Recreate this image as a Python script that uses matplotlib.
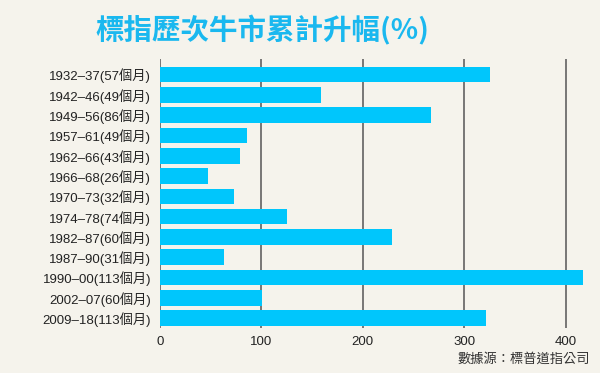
import matplotlib
matplotlib.use("Agg")
import matplotlib.pyplot as plt

categories = ["1932–37(57個月)", "1942–46(49個月)", "1949–56(86個月)", "1957–61(49個月)",
              "1962–66(43個月)", "1966–68(26個月)", "1970–73(32個月)", "1974–78(74個月)",
              "1982–87(60個月)", "1987–90(31個月)", "1990–00(113個月)", "2002–07(60個月)",
              "2009–18(113個月)"]
values = [325.5, 159, 267, 85.5, 78.5, 47, 73, 125, 228.5, 63, 417, 101, 322]
xticks = [0, 100, 200, 300, 400]
title = "標指歷次牛市累計升幅(%)"
source = "數據源：標普道指公司"

BG = "#f5f3ec"
BAR = "#00c6fc"
TITLE_C = "#1ab8ef"
FAM = ["Liberation Sans", "Noto Sans CJK TC", "DejaVu Sans"]
plt.rcParams["font.family"] = FAM

fig = plt.figure(figsize=(6, 3.73), dpi=100, facecolor=BG)
ax = fig.add_axes([160/600, 1-328/373, 436/600, (328-59)/373])
ax.set_facecolor(BG)

ypos = list(range(len(categories)))
ax.barh(ypos, values, height=0.77, color=BAR, zorder=2)
ax.set_ylim(len(categories) - 1 + 0.48, -0.76)
ax.set_xlim(0, 430)
ax.set_yticks(ypos)
ax.set_yticklabels(categories, fontsize=9.5, color="#222222")
ax.set_xticks(xticks)
ax.set_xticklabels([str(v) for v in xticks], fontsize=9.5, color="#222222")
ax.tick_params(axis="y", length=0, pad=6.5)
ax.tick_params(axis="x", length=0, pad=6)
for v in xticks:
    ax.axvline(v, color="#555555", lw=1.1, zorder=1)
for s in ax.spines.values():
    s.set_visible(False)

fig.text(262/600, 1-30/373, title, fontsize=20.5, fontweight="bold", color=TITLE_C,
         ha="center", va="center", family=["Noto Sans CJK TC", "DejaVu Sans"])
fig.text(590/600, 1-359/373, source, fontsize=9.5, color="#333333", ha="right", va="center",
         family=["Noto Sans CJK TC", "DejaVu Sans"])

fig.savefig("out.png", dpi=100, facecolor=BG)
